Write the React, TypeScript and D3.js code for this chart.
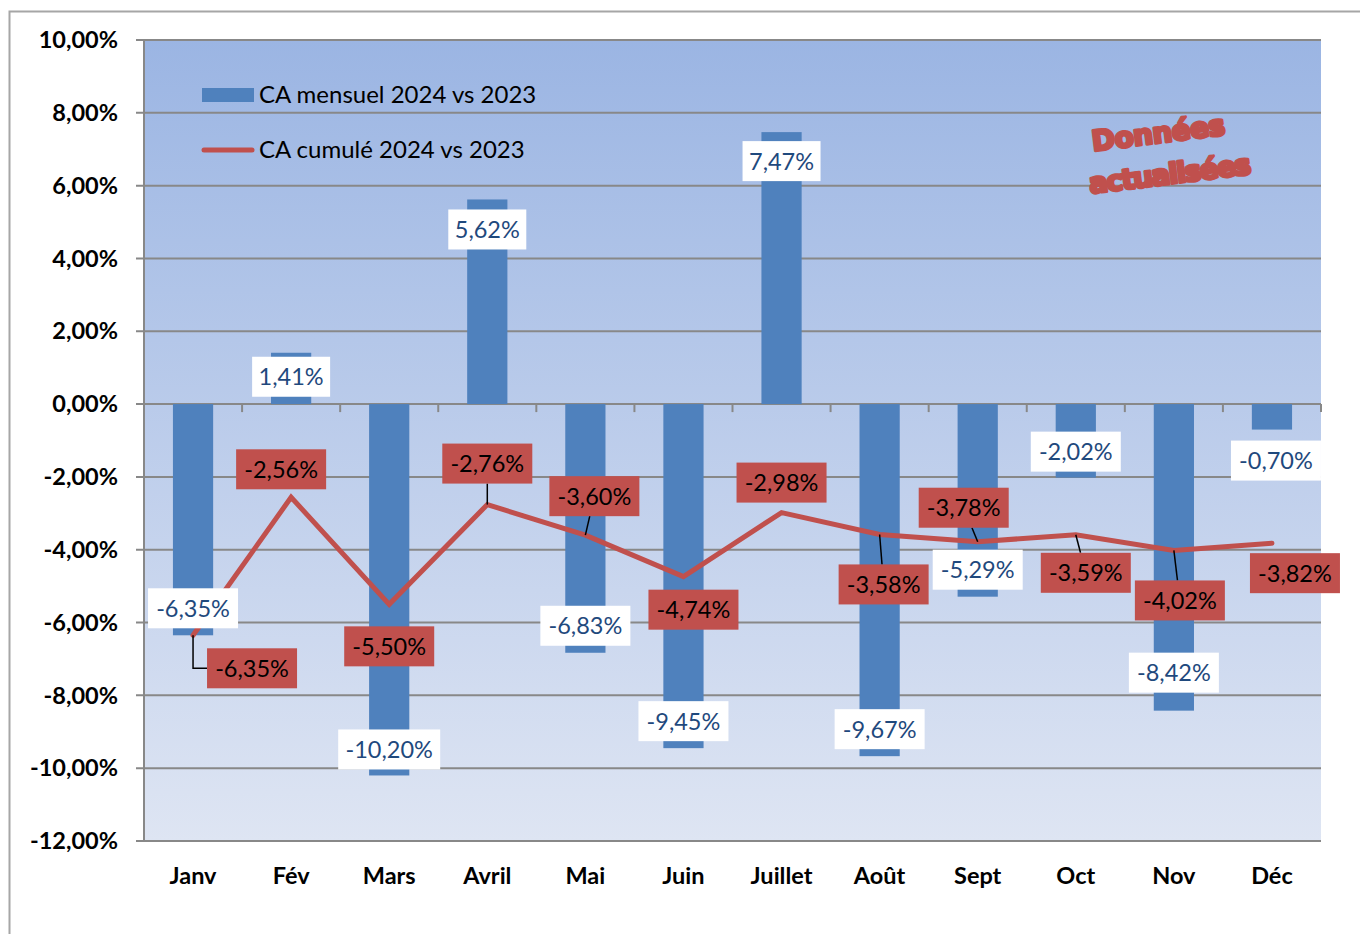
import React from 'react';
import * as d3 from 'd3';

const months = ['Janv', 'Fév', 'Mars', 'Avril', 'Mai', 'Juin', 'Juillet', 'Août', 'Sept', 'Oct', 'Nov', 'Déc'];
const monthly = [-6.35, 1.41, -10.2, 5.62, -6.83, -9.45, 7.47, -9.67, -5.29, -2.02, -8.42, -0.7];
const cumul = [-6.35, -2.56, -5.5, -2.76, -3.6, -4.74, -2.98, -3.58, -3.78, -3.59, -4.02, -3.82];
const yTicks = [10, 8, 6, 4, 2, 0, -2, -4, -6, -8, -10, -12];

// label placement (pixels, relative to the data point), as set by hand in the original
const barLabelOffset: [number, number][] = [
  [0, -27], [0, 24], [0, -26], [0, 30], [0, -27], [0, -27],
  [0, 29], [0, -27], [0, -27], [0, -26], [0, -38], [4, 31],
];
const lineLabelOffset: [number, number][] = [
  [59, 33], [-10, -28], [0, 42], [0, -41], [9, -39], [10, 33],
  [0, -30], [4, 50], [-14, -34], [10, 38], [6, 50], [23, 30],
];
const leaderType = ['elbow', 'none', 'none', 'straight', 'straight', 'none', 'none', 'straight', 'straight', 'straight', 'straight', 'none'];

const fmt = (v: number) => v.toFixed(2).replace('.', ',') + '%';

const W = 1360;
const H = 934;
const plot = { left: 144, right: 1321, top: 40, bottom: 841 };
const FONT = 'Lato, "Open Sans", sans-serif';
const BLUE = '#4f81bd';
const RED = '#c0504d';

const boxW = (s: string) => s.length * 12 + 18;
const BOX_H = 40;

const App = () => {
  const x = d3.scaleBand<string>().domain(months).range([plot.left, plot.right]);
  const y = d3.scaleLinear().domain([-12, 10]).range([plot.bottom, plot.top]);
  const step = x.step();
  const barW = step * 0.41;
  const cx = (m: string) => (x(m) as number) + step / 2;

  const line = d3.line<number>()
    .x((_, i) => cx(months[i]))
    .y(d => y(d));

  return (
    <div style={{ position: 'fixed', left: 0, top: 0, background: '#fff' }}>
      <svg width={W} height={H} style={{ display: 'block' }} fontFamily={FONT}>
        <defs>
          <linearGradient id="bg" x1="0" y1="0" x2="0" y2="1">
            <stop offset="0" stopColor="#9bb5e3" />
            <stop offset="1" stopColor="#dee5f3" />
          </linearGradient>
        </defs>
        <rect x={9.5} y={11.5} width={1400} height={1000} fill="#fff" stroke="#a6a6a6" strokeWidth={2} />

        <rect x={plot.left} y={plot.top} width={plot.right - plot.left} height={plot.bottom - plot.top} fill="url(#bg)" />

        {/* gridlines and y axis */}
        {yTicks.map(t => (
          <g key={t}>
            <line x1={plot.left - 8} x2={plot.right} y1={y(t)} y2={y(t)} stroke="#888" strokeWidth={2} />
            <text x={118} y={y(t)} dy="0.35em" textAnchor="end" fontWeight="bold" fontSize={23.5} fill="#000">
              {fmt(t)}
            </text>
          </g>
        ))}
        <line x1={plot.left} x2={plot.left} y1={plot.top} y2={plot.bottom} stroke="#888" strokeWidth={2} />

        {/* category ticks on the zero line */}
        {months.map(m => (
          <line key={m} x1={(x(m) as number) + step} x2={(x(m) as number) + step} y1={y(0)} y2={y(0) + 8} stroke="#888" strokeWidth={2} />
        ))}

        {/* bars */}
        {monthly.map((v, i) => (
          <rect
            key={months[i]}
            x={cx(months[i]) - barW / 2}
            y={Math.min(y(v), y(0))}
            width={barW}
            height={Math.abs(y(v) - y(0))}
            fill={BLUE}
          />
        ))}

        {/* cumulative line */}
        <path d={line(cumul) || ''} fill="none" stroke={RED} strokeWidth={5} strokeLinejoin="miter" strokeLinecap="round" />

        {/* leader lines */}
        {cumul.map((v, i) => {
          const px = cx(months[i]);
          const py = y(v);
          const lx = px + lineLabelOffset[i][0];
          const ly = py + lineLabelOffset[i][1];
          const w = boxW(fmt(v));
          if (leaderType[i] === 'none') return null;
          if (leaderType[i] === 'elbow') {
            return <path key={i} d={`M${px},${py} V${ly} H${lx - w / 2}`} fill="none" stroke="#000" strokeWidth={1.5} />;
          }
          const dx = lx - px;
          const dy = ly - py;
          const t = Math.abs(dy) > 0 ? 1 - (BOX_H / 2) / Math.abs(dy) : 0;
          return <line key={i} x1={px} y1={py} x2={px + dx * t} y2={py + dy * t} stroke="#000" strokeWidth={1.5} />;
        })}

        {/* bar labels */}
        {monthly.map((v, i) => {
          const s = fmt(v);
          const w = boxW(s);
          const lx = cx(months[i]) + barLabelOffset[i][0];
          const ly = y(v) + barLabelOffset[i][1];
          return (
            <g key={months[i]}>
              <rect x={lx - w / 2} y={ly - BOX_H / 2} width={w} height={BOX_H} fill="#fff" />
              <text x={lx} y={ly} dy="0.36em" textAnchor="middle" fontSize={23.5} fill="#1f497d">{s}</text>
            </g>
          );
        })}

        {/* cumulative labels */}
        {cumul.map((v, i) => {
          const s = fmt(v);
          const w = boxW(s);
          const lx = cx(months[i]) + lineLabelOffset[i][0];
          const ly = y(v) + lineLabelOffset[i][1];
          return (
            <g key={months[i]}>
              <rect x={lx - w / 2} y={ly - BOX_H / 2} width={w} height={BOX_H} fill={RED} />
              <text x={lx} y={ly} dy="0.36em" textAnchor="middle" fontSize={23.5} fill="#000">{s}</text>
            </g>
          );
        })}

        {/* x axis labels */}
        {months.map(m => (
          <text key={m} x={cx(m)} y={876} dy="0.35em" textAnchor="middle" fontWeight="bold" fontSize={23.5} fill="#000">{m}</text>
        ))}

        {/* legend */}
        <rect x={202} y={88} width={52} height={14} fill={BLUE} />
        <text x={259} y={95} dy="0.35em" fontSize={24} fill="#000">CA mensuel 2024 vs 2023</text>
        <line x1={204} x2={252} y1={150} y2={150} stroke={RED} strokeWidth={5} strokeLinecap="round" />
        <text x={259} y={150} dy="0.35em" fontSize={24} fill="#000">CA cumulé 2024 vs 2023</text>

        {/* stamp */}
        <g transform="translate(1166,148) rotate(-7)" fill={RED} stroke={RED} strokeWidth={3} strokeLinejoin="round"
          fontFamily='"DejaVu Sans", sans-serif' fontWeight="bold" textAnchor="middle">
          <text x={-6} y={-6} fontSize={28} letterSpacing={-0.5}>Données</text>
          <text x={0} y={36} fontSize={28} letterSpacing={-1.5}>actualisées</text>
        </g>
      </svg>
    </div>
  );
};

export default App;
